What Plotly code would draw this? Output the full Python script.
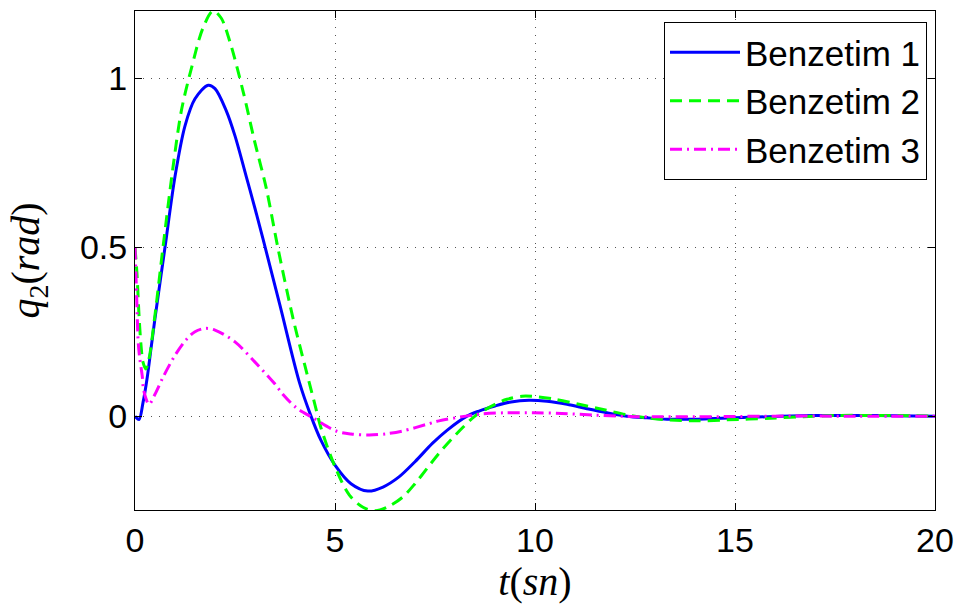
import plotly.graph_objects as go

# ---- data ----
t1 = [0, 0.1, 0.2, 0.3, 0.4, 0.5, 0.75, 1.0, 1.25, 1.5, 1.83, 2.0, 2.28, 2.5, 2.78, 3.0, 3.2,
      3.62, 4.11, 4.4, 4.65, 5.0, 5.4, 5.82, 6.2, 6.6, 7.0, 7.44, 7.8, 8.3, 8.6, 9.0, 9.4,
      9.85, 10.3, 10.8, 11.3, 11.8, 12.3, 12.8, 13.3, 14.0, 14.5, 15.0, 16.0, 17.0, 18.0, 19.0, 20.0]
q1 = [0, -0.01, 0.04, 0.11, 0.2, 0.29, 0.5, 0.71, 0.86, 0.94, 0.98, 0.97, 0.905, 0.83, 0.71, 0.615, 0.525,
      0.33, 0.1, 0.0, -0.072, -0.145, -0.2, -0.222, -0.21, -0.18, -0.135, -0.08, -0.042, 0.0, 0.015, 0.03, 0.042,
      0.047, 0.044, 0.035, 0.022, 0.01, 0.0, -0.005, -0.009, -0.009, -0.007, -0.005, -0.001, 0.002, 0.002, 0.001, 0.0]

t2 = [0, 0.05, 0.1, 0.15, 0.2, 0.27, 0.35, 0.5, 0.7, 0.95, 1.16, 1.41, 1.7, 1.95, 2.15, 2.37, 2.7,
      2.99, 3.28, 3.57, 3.95, 4.24, 4.49, 4.65, 5.0, 5.36, 5.7, 6.0, 6.3, 6.69, 7.0, 7.3, 7.6,
      7.9, 8.2, 8.5, 9.0, 9.3, 9.68, 10.0, 10.5, 11.1, 11.76, 12.3, 12.8, 13.2, 14.0, 14.8, 15.9,
      16.7, 17.5, 18.5, 19.5, 20.0]
q2 = [0.5, 0.42, 0.3, 0.21, 0.16, 0.14, 0.17, 0.3, 0.5, 0.737, 0.905, 1.03, 1.15, 1.2, 1.18, 1.11, 0.963,
      0.814, 0.676, 0.5, 0.29, 0.153, 0.038, -0.035, -0.15, -0.234, -0.27, -0.28, -0.27, -0.24, -0.2, -0.155, -0.11,
      -0.07, -0.033, 0.0, 0.035, 0.05, 0.059, 0.058, 0.05, 0.035, 0.018, 0.004, -0.005, -0.01, -0.014, -0.011, -0.006,
      -0.002, 0.002, 0.002, 0.001, 0.0]

t3 = [0, 0.04, 0.08, 0.12, 0.18, 0.22, 0.35, 0.5, 0.7, 1.0, 1.29, 1.5, 1.75, 2.0, 2.5, 3.0, 3.5,
      3.7, 4.03, 4.45, 5.03, 5.4, 5.86, 6.3, 6.69, 7.36, 7.6, 8.27, 8.7, 9.27, 10.0, 10.67, 11.5,
      12.3, 13.0, 14.0, 15.0, 16.0, 18.0, 20.0]
q3 = [0.5, 0.36, 0.22, 0.17, 0.12, 0.075, 0.035, 0.065, 0.115, 0.18, 0.228, 0.25, 0.26, 0.255, 0.22, 0.16, 0.095,
      0.064, 0.025, -0.005, -0.044, -0.053, -0.056, -0.052, -0.044, -0.022, -0.014, 0.0, 0.007, 0.01, 0.01, 0.008, 0.003,
      -0.001, -0.002, -0.002, -0.001, 0.0, 0.0, 0.0]

names = ["Benzetim 1", "Benzetim 2", "Benzetim 3"]
x_ticks = [0, 5, 10, 15, 20]
y_ticks = [0, 0.5, 1]
y_tick_text = ["0", "0.5", "1"]

fig = go.Figure()
fig.add_trace(go.Scatter(x=t1, y=q1, mode="lines", name=names[0],
                         line=dict(color="#0000ff", width=3, shape="spline", smoothing=0.9)))
fig.add_trace(go.Scatter(x=t2, y=q2, mode="lines", name=names[1],
                         line=dict(color="#00ff00", width=3, dash="12px,7px", shape="spline", smoothing=0.9)))
fig.add_trace(go.Scatter(x=t3, y=q3, mode="lines", name=names[2],
                         line=dict(color="#ff00ff", width=3, dash="12px,5px,2px,5px", shape="spline", smoothing=0.9)))

axis_common = dict(
    showline=True, linecolor="black", linewidth=1, mirror="allticks",
    ticks="inside", ticklen=7, tickcolor="black", tickwidth=1,
    showgrid=True, gridcolor="#555555", griddash="1px,7px", gridwidth=1,
    zeroline=False,
    tickfont=dict(family="Liberation Sans, Arial, sans-serif", size=34, color="black"),
)

title_font = dict(family="Liberation Serif, DejaVu Serif, serif", size=40, color="black")

fig.update_xaxes(range=[0, 20], tickvals=x_ticks, **axis_common,
                 title=dict(text="<i>t</i>(<i>sn</i>)", standoff=0, font=title_font))
fig.update_yaxes(range=[-0.278, 1.2], tickvals=y_ticks, ticktext=y_tick_text, **axis_common,
                 title=dict(text="<i>q</i><sub>2</sub>(<i>rad</i>)", standoff=27, font=title_font))

fig.update_layout(
    width=964, height=608,
    margin=dict(l=135, r=26, t=10, b=98),
    paper_bgcolor="white", plot_bgcolor="white",
    showlegend=True,
    legend=dict(x=0.99, y=0.978, xanchor="right", yanchor="top",
                bgcolor="white", bordercolor="black", borderwidth=1,
                font=dict(family="Liberation Sans, Arial, sans-serif", size=35, color="black"),
                tracegroupgap=0, itemwidth=70),
)

fig.write_html("out.html")
